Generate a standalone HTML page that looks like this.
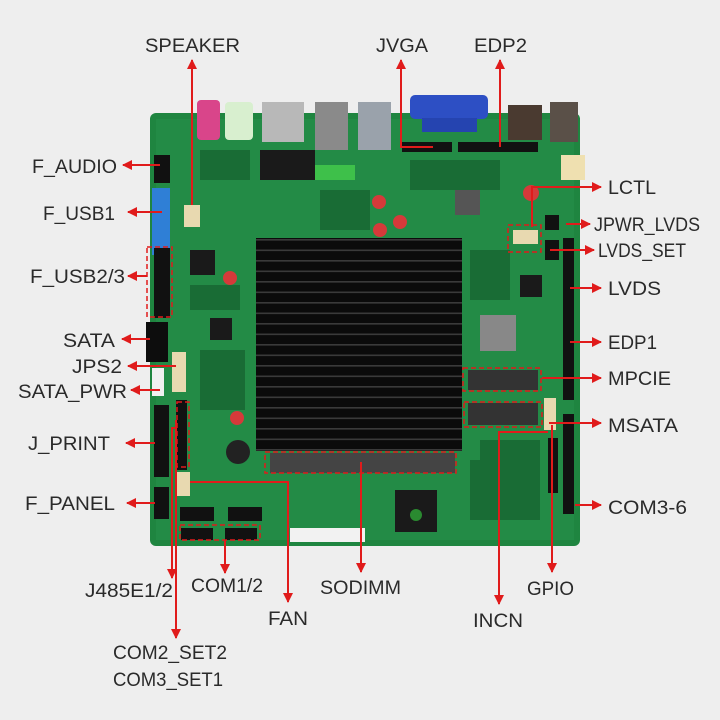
<!DOCTYPE html><html><head><meta charset="utf-8"><style>
html,body{margin:0;padding:0;background:#eeeeee}
svg{display:block}
text{font-family:"Liberation Sans",sans-serif;font-size:19px;fill:#2a2a2a}
</style></head><body>
<svg width="720" height="720" viewBox="0 0 720 720" xmlns="http://www.w3.org/2000/svg">
<defs>
<marker id="a" viewBox="0 0 10 10" refX="9" refY="5" markerWidth="5" markerHeight="5" orient="auto"><path d="M0,0L10,5L0,10z" fill="#e01b1b"/></marker>
<pattern id="fins" width="10" height="10.5" patternUnits="userSpaceOnUse"><rect width="10" height="10.5" fill="#0b0b0b"/><rect y="8" width="10" height="1.6" fill="#3a3a3a"/></pattern>
</defs>
<rect width="720" height="720" fill="#eeeeee"/>
<rect x="150" y="113" width="430" height="433" rx="6" fill="#1f8540"/>
<rect x="156" y="119" width="418" height="421" fill="#27904b" opacity="0.6"/>
<g fill="#16602e" opacity="0.7">
<rect x="200" y="150" width="50" height="30"/><rect x="320" y="190" width="50" height="40"/><rect x="470" y="250" width="40" height="50"/>
<rect x="200" y="350" width="45" height="60"/><rect x="480" y="440" width="60" height="80"/><rect x="190" y="285" width="50" height="25"/>
<rect x="410" y="160" width="90" height="30"/><rect x="470" y="460" width="40" height="60"/>
</g>
<rect x="197" y="100" width="23" height="40" rx="4" fill="#d9458a"/>
<rect x="225" y="102" width="28" height="38" rx="4" fill="#d8efcf"/>
<rect x="262" y="102" width="42" height="40" fill="#b8b8b8"/>
<rect x="315" y="102" width="33" height="48" fill="#8a8a8a"/>
<rect x="358" y="102" width="33" height="48" fill="#9aa2ab"/>
<rect x="410" y="95" width="78" height="24" rx="5" fill="#2d4fc4"/>
<rect x="422" y="118" width="55" height="14" fill="#2544b0"/>
<rect x="508" y="105" width="34" height="35" fill="#4a3a30"/>
<rect x="550" y="102" width="28" height="40" fill="#5a5048"/>
<rect x="561" y="155" width="24" height="25" fill="#efe0b0"/>
<rect x="154" y="155" width="16" height="28" fill="#111"/>
<rect x="152" y="188" width="18" height="67" fill="#2f7fd6"/>
<rect x="154" y="248" width="16" height="70" fill="#111"/>
<rect x="146" y="322" width="22" height="40" fill="#0d0d0d"/>
<rect x="172" y="352" width="14" height="40" fill="#e8d9b0"/>
<rect x="152" y="368" width="12" height="28" fill="#f0f0f0"/>
<rect x="154" y="405" width="15" height="72" fill="#111"/>
<rect x="176" y="400" width="11" height="70" fill="#111"/>
<rect x="154" y="487" width="15" height="32" fill="#111"/>
<rect x="176" y="472" width="14" height="24" fill="#e8d9b0"/>
<rect x="180" y="507" width="34" height="14" fill="#111"/>
<rect x="228" y="507" width="34" height="14" fill="#111"/>
<rect x="181" y="528" width="32" height="12" fill="#111"/>
<rect x="225" y="528" width="32" height="12" fill="#111"/>
<rect x="402" y="142" width="50" height="10" fill="#111"/>
<rect x="458" y="142" width="80" height="10" fill="#111"/>
<rect x="563" y="238" width="11" height="90" fill="#111"/>
<rect x="563" y="325" width="11" height="75" fill="#111"/>
<rect x="563" y="414" width="11" height="100" fill="#111"/>
<rect x="548" y="438" width="10" height="55" fill="#111"/>
<rect x="544" y="398" width="12" height="32" fill="#e8d9b0"/>
<rect x="513" y="230" width="25" height="14" fill="#e8d9b0"/>
<rect x="184" y="205" width="16" height="22" fill="#e8d9b0"/>
<rect x="545" y="215" width="14" height="15" fill="#111"/>
<rect x="545" y="240" width="14" height="20" fill="#111"/>
<rect x="260" y="150" width="55" height="30" fill="#1a1a1a"/>
<rect x="190" y="250" width="25" height="25" fill="#1a1a1a"/>
<rect x="210" y="318" width="22" height="22" fill="#1a1a1a"/>
<rect x="520" y="275" width="22" height="22" fill="#1a1a1a"/>
<rect x="395" y="490" width="42" height="42" fill="#1a1a1a"/>
<circle cx="416" cy="515" r="6" fill="#2a8a30"/>
<rect x="480" y="315" width="36" height="36" fill="#888"/>
<rect x="455" y="190" width="25" height="25" fill="#555"/>
<rect x="315" y="165" width="40" height="15" fill="#3ec04a"/>
<rect x="290" y="528" width="75" height="14" fill="#f2f2f2"/>
<circle cx="379" cy="202" r="7" fill="#d53a3a"/><circle cx="380" cy="230" r="7" fill="#d53a3a"/>
<circle cx="400" cy="222" r="7" fill="#d53a3a"/><circle cx="230" cy="278" r="7" fill="#d53a3a"/>
<circle cx="237" cy="418" r="7" fill="#d53a3a"/><circle cx="531" cy="193" r="8" fill="#d53a3a"/>
<circle cx="238" cy="452" r="12" fill="#222"/>
<rect x="256" y="238" width="206" height="213" fill="url(#fins)"/>
<rect x="468" y="370" width="70" height="20" fill="#333"/>
<rect x="468" y="403" width="70" height="22" fill="#333"/>
<rect x="270" y="453" width="185" height="20" fill="#444"/>
<g fill="none" stroke="#e01b1b" stroke-width="1.5" stroke-dasharray="5,3">
<rect x="147" y="247" width="25" height="70"/>
<rect x="463" y="368" width="78" height="23"/>
<rect x="464" y="402" width="78" height="25"/>
<rect x="265" y="452" width="191" height="21"/>
<rect x="177" y="402" width="12" height="65"/>
<rect x="180" y="525" width="80" height="15"/>
<rect x="508" y="225" width="33" height="27"/>
</g>
<g stroke="#e01b1b" stroke-width="2" fill="none" marker-end="url(#a)">
<path d="M192,205V60"/>
<path d="M433,147H401V60"/>
<path d="M500,147V60"/>
<path d="M160,165H123"/>
<path d="M162,212H128"/>
<path d="M147,276H128"/>
<path d="M150,339H122"/>
<path d="M176,366H128"/>
<path d="M160,390H131"/>
<path d="M155,443H126"/>
<path d="M155,503H127"/>
<path d="M532,227V187H601"/>
<path d="M566,224H590"/>
<path d="M550,250H594"/>
<path d="M570,288H601"/>
<path d="M570,342H601"/>
<path d="M542,378H601"/>
<path d="M549,423H601"/>
<path d="M575,505H601"/>
<path d="M176,428H172V578"/>
<path d="M176,420V638"/>
<path d="M225,540V573"/>
<path d="M190,482H288V602"/>
<path d="M361,462V572"/>
<path d="M548,432H499V604"/>
<path d="M552,425V572"/>
</g>
<text x="145" y="52" textLength="95" lengthAdjust="spacingAndGlyphs">SPEAKER</text>
<text x="376" y="52" textLength="52" lengthAdjust="spacingAndGlyphs">JVGA</text>
<text x="474" y="52" textLength="53" lengthAdjust="spacingAndGlyphs">EDP2</text>
<text x="32" y="173" textLength="85" lengthAdjust="spacingAndGlyphs">F_AUDIO</text>
<text x="43" y="220" textLength="72" lengthAdjust="spacingAndGlyphs">F_USB1</text>
<text x="30" y="283" textLength="95" lengthAdjust="spacingAndGlyphs">F_USB2/3</text>
<text x="63" y="347" textLength="52" lengthAdjust="spacingAndGlyphs">SATA</text>
<text x="72" y="373" textLength="50" lengthAdjust="spacingAndGlyphs">JPS2</text>
<text x="18" y="398" textLength="109" lengthAdjust="spacingAndGlyphs">SATA_PWR</text>
<text x="28" y="450" textLength="82" lengthAdjust="spacingAndGlyphs">J_PRINT</text>
<text x="25" y="510" textLength="90" lengthAdjust="spacingAndGlyphs">F_PANEL</text>
<text x="608" y="194" textLength="48" lengthAdjust="spacingAndGlyphs">LCTL</text>
<text x="594" y="231" textLength="106" lengthAdjust="spacingAndGlyphs">JPWR_LVDS</text>
<text x="598" y="257" textLength="88" lengthAdjust="spacingAndGlyphs">LVDS_SET</text>
<text x="608" y="295" textLength="53" lengthAdjust="spacingAndGlyphs">LVDS</text>
<text x="608" y="349" textLength="49" lengthAdjust="spacingAndGlyphs">EDP1</text>
<text x="608" y="385" textLength="63" lengthAdjust="spacingAndGlyphs">MPCIE</text>
<text x="608" y="432" textLength="70" lengthAdjust="spacingAndGlyphs">MSATA</text>
<text x="608" y="514" textLength="79" lengthAdjust="spacingAndGlyphs">COM3-6</text>
<text x="85" y="597" textLength="88" lengthAdjust="spacingAndGlyphs">J485E1/2</text>
<text x="191" y="592" textLength="72" lengthAdjust="spacingAndGlyphs">COM1/2</text>
<text x="268" y="625" textLength="40" lengthAdjust="spacingAndGlyphs">FAN</text>
<text x="320" y="594" textLength="81" lengthAdjust="spacingAndGlyphs">SODIMM</text>
<text x="473" y="627" textLength="50" lengthAdjust="spacingAndGlyphs">INCN</text>
<text x="527" y="595" textLength="47" lengthAdjust="spacingAndGlyphs">GPIO</text>
<text x="113" y="659" textLength="114" lengthAdjust="spacingAndGlyphs">COM2_SET2</text>
<text x="113" y="686" textLength="110" lengthAdjust="spacingAndGlyphs">COM3_SET1</text>
</svg>
</body></html>
